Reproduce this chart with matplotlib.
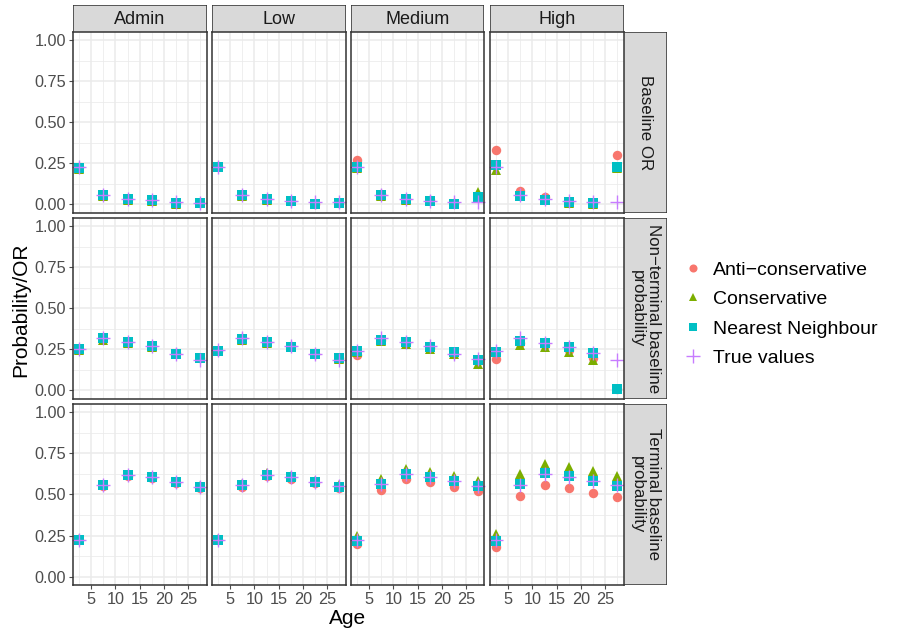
import matplotlib.pyplot as plt
from matplotlib.patches import Rectangle
from matplotlib.lines import Line2D

plt.rcParams["font.family"] = ["Liberation Sans", "DejaVu Sans"]

# facet layout: rows = quantity, columns = deprivation group
groups = ["Admin", "Low", "Medium", "High"]
quantities = ["Baseline OR", "Non\u2212terminal baseline\nprobability",
              "Terminal baseline\nprobability"]
ages = [2.5, 7.5, 12.5, 17.5, 22.5, 27.5]

methods = ["Anti\u2212conservative", "Conservative", "Nearest Neighbour", "True values"]
colors = ["#F8766D", "#7CAE00", "#00BFC4", "#C77CFF"]
markers = ["o", "^", "s", "+"]

# baseline odds ratio, one row per group (Admin, Low, Medium, High)
or_anti = [[0.225, 0.06, 0.035, 0.025, 0.01, 0.01],
           [0.235, 0.058, 0.033, 0.022, 0.005, 0.01],
           [0.27, 0.065, 0.035, 0.025, 0.008, 0.05],
           [0.33, 0.08, 0.048, 0.015, 0.008, 0.30]]
or_cons = [[0.215, 0.05, 0.028, 0.02, 0.005, 0.008],
           [0.225, 0.05, 0.027, 0.018, 0.003, 0.008],
           [0.22, 0.05, 0.027, 0.018, 0.0, 0.075],
           [0.21, 0.05, 0.025, 0.01, 0.005, 0.22]]
or_nn = [[0.22, 0.055, 0.03, 0.025, 0.008, 0.008],
         [0.23, 0.055, 0.03, 0.018, 0.0, 0.008],
         [0.23, 0.055, 0.03, 0.02, 0.0, 0.045],
         [0.24, 0.053, 0.027, 0.013, 0.008, 0.23]]
or_true = [[0.225, 0.058, 0.03, 0.025, 0.015, 0.01],
           [0.23, 0.058, 0.03, 0.02, 0.012, 0.012],
           [0.225, 0.058, 0.03, 0.022, 0.016, 0.016],
           [0.23, 0.055, 0.03, 0.02, 0.015, 0.012]]

# non-terminal baseline probability
nt_anti = [[0.25, 0.318, 0.297, 0.27, 0.226, 0.196],
           [0.242, 0.318, 0.297, 0.268, 0.225, 0.2],
           [0.218, 0.305, 0.29, 0.26, 0.225, 0.18],
           [0.19, 0.29, 0.28, 0.245, 0.2, 0.01]]
nt_cons = [[0.245, 0.31, 0.29, 0.265, 0.22, 0.195],
           [0.238, 0.31, 0.29, 0.262, 0.22, 0.19],
           [0.235, 0.3, 0.285, 0.25, 0.22, 0.16],
           [0.235, 0.28, 0.263, 0.234, 0.187, 0.01]]
nt_nn = [[0.25, 0.318, 0.297, 0.269, 0.224, 0.196],
         [0.242, 0.316, 0.297, 0.267, 0.224, 0.2],
         [0.238, 0.31, 0.297, 0.267, 0.232, 0.183],
         [0.232, 0.303, 0.29, 0.263, 0.226, 0.012]]
nt_true = [[0.25, 0.32, 0.297, 0.27, 0.224, 0.183],
           [0.245, 0.32, 0.297, 0.27, 0.224, 0.185],
           [0.24, 0.32, 0.297, 0.27, 0.225, 0.19],
           [0.24, 0.32, 0.29, 0.265, 0.226, 0.185]]

# terminal baseline probability
t_anti = [[0.222, 0.552, 0.613, 0.6, 0.57, 0.542],
          [0.22, 0.545, 0.612, 0.595, 0.568, 0.54],
          [0.2, 0.53, 0.593, 0.576, 0.548, 0.519],
          [0.183, 0.493, 0.556, 0.542, 0.511, 0.487]]
t_cons = [[0.228, 0.56, 0.62, 0.607, 0.578, 0.55],
          [0.23, 0.565, 0.63, 0.612, 0.585, 0.557],
          [0.246, 0.593, 0.654, 0.637, 0.613, 0.582],
          [0.257, 0.623, 0.688, 0.67, 0.642, 0.613]]
t_nn = [[0.224, 0.556, 0.617, 0.605, 0.574, 0.546],
        [0.224, 0.556, 0.621, 0.605, 0.576, 0.548],
        [0.218, 0.562, 0.623, 0.607, 0.58, 0.55],
        [0.218, 0.562, 0.631, 0.611, 0.58, 0.552]]
t_true = [[0.224, 0.556, 0.617, 0.605, 0.575, 0.546],
          [0.224, 0.556, 0.621, 0.605, 0.576, 0.55],
          [0.22, 0.562, 0.623, 0.607, 0.58, 0.55],
          [0.22, 0.56, 0.625, 0.605, 0.58, 0.555]]

rows = [[or_anti, or_cons, or_nn, or_true],
        [nt_anti, nt_cons, nt_nn, nt_true],
        [t_anti, t_cons, t_nn, t_true]]

W, H = 898, 633
fig = plt.figure(figsize=(W / 100, H / 100), dpi=100)

def box(x, y, w, h):
    return [x / W, 1 - (y + h) / H, w / W, h / H]

left, top = 73, 32
pw, ph, gap = 133.5, 180.6, 5.5
strip_top_h, strip_right_w = 27, 43.7
dark = "#333333"
tick_col = "#4D4D4D"

for r in range(3):
    for c in range(4):
        x0 = left + c * (pw + gap)
        y0 = top + r * (ph + gap)
        ax = fig.add_axes(box(x0, y0, pw, ph))
        ax.set_xlim(1.25, 28.75)
        ax.set_ylim(-0.05, 1.05)
        ax.set_xticks([5, 10, 15, 20, 25])
        ax.set_xticks(ages, minor=True)
        ax.set_yticks([0, 0.25, 0.5, 0.75, 1.0])
        ax.set_yticks([0.125, 0.375, 0.625, 0.875], minor=True)
        ax.grid(True, which="major", color="#EBEBEB", lw=1.1)
        ax.grid(True, which="minor", color="#EBEBEB", lw=0.55)
        ax.set_axisbelow(True)
        for s in ax.spines.values():
            s.set_color(dark)
            s.set_linewidth(1.1)
        ax.tick_params(which="minor", length=0)
        ax.tick_params(which="major", length=3, color=tick_col, width=0.8,
                       labelsize=11.7, labelcolor=tick_col, pad=2)
        if c > 0:
            ax.set_yticklabels([])
            ax.tick_params(axis="y", length=0)
        else:
            ax.set_yticklabels(["0.00", "0.25", "0.50", "0.75", "1.00"])
        if r < 2:
            ax.set_xticklabels([])
            ax.tick_params(axis="x", length=0)

        for m in range(4):
            vals = rows[r][m][c]
            if markers[m] == "+":
                ax.plot(ages, vals, ls="none", marker="+", color=colors[m],
                        ms=10, mew=1.0, clip_on=False)
            else:
                ms = 7.5 if markers[m] == "^" else 6.8
                ax.plot(ages, vals, ls="none", marker=markers[m], color=colors[m],
                        ms=ms, mew=0, clip_on=False)

        if r == 0:
            sax = fig.add_axes(box(x0, top - strip_top_h, pw, strip_top_h))
            sax.add_patch(Rectangle((0, 0), 1, 1, transform=sax.transAxes,
                                    facecolor="#D9D9D9", edgecolor=dark, lw=1.1))
            sax.text(0.5, 0.48, groups[c], ha="center", va="center",
                     fontsize=13, color="#1A1A1A", transform=sax.transAxes)
            sax.axis("off")
        if c == 3:
            sax = fig.add_axes(box(x0 + pw, y0, strip_right_w, ph))
            sax.add_patch(Rectangle((0, 0), 1, 1, transform=sax.transAxes,
                                    facecolor="#D9D9D9", edgecolor=dark, lw=1.1))
            sax.text(0.5, 0.5, quantities[r], ha="center", va="center",
                     rotation=-90, fontsize=12.2, color="#1A1A1A",
                     linespacing=1.15, transform=sax.transAxes)
            sax.axis("off")

fig.text(348 / W, 1 - 619 / H, "Age", ha="center", va="center", fontsize=15)
fig.text(21 / W, 1 - 310 / H, "Probability/OR", ha="center", va="center",
         rotation=90, fontsize=15)

# legend
handles = []
for m in range(4):
    if markers[m] == "+":
        handles.append(Line2D([], [], ls="none", marker="+", color=colors[m],
                              ms=10, mew=1.0))
    else:
        handles.append(Line2D([], [], ls="none", marker=markers[m], color=colors[m],
                              ms=5.8, mew=0))
fig.legend(handles, methods, loc="center left", bbox_to_anchor=(683 / W, 1 - 314 / H),
           frameon=False, fontsize=14, handletextpad=0.55, labelspacing=0.61,
           handlelength=1.0, borderpad=0, borderaxespad=0)

fig.savefig("out.png", dpi=100)
